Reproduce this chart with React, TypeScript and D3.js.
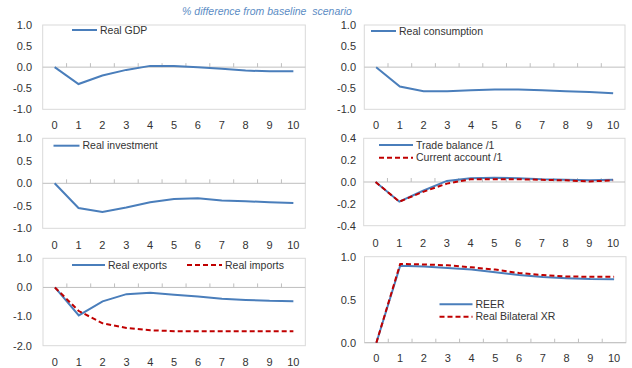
import React from 'react';
import * as d3 from 'd3';

const periods = ['0', '1', '2', '3', '4', '5', '6', '7', '8', '9', '10'];
const realGDP = [0, -0.4, -0.2, -0.065, 0.03, 0.03, 0.0, -0.04, -0.08, -0.1, -0.1];
const realConsumption = [0, -0.46, -0.57, -0.57, -0.55, -0.53, -0.53, -0.55, -0.57, -0.59, -0.62];
const realInvestment = [0, -0.55, -0.64, -0.54, -0.42, -0.35, -0.33, -0.38, -0.4, -0.42, -0.44];
const tradeBalance = [0, -0.18, -0.08, 0.01, 0.035, 0.04, 0.035, 0.025, 0.02, 0.015, 0.02];
const currentAccount = [0, -0.18, -0.09, -0.015, 0.025, 0.025, 0.025, 0.02, 0.015, 0.005, 0.015];
const realExports = [0, -0.96, -0.48, -0.23, -0.18, -0.25, -0.31, -0.39, -0.43, -0.46, -0.47];
const realImports = [0, -0.81, -1.23, -1.39, -1.47, -1.5, -1.5, -1.5, -1.5, -1.5, -1.5];
const reer = [0, 0.895, 0.885, 0.87, 0.85, 0.82, 0.787, 0.765, 0.75, 0.74, 0.737];
const realBilateralXR = [0, 0.915, 0.91, 0.9, 0.877, 0.85, 0.81, 0.787, 0.77, 0.767, 0.767];

const ticksPct = [-1, -0.5, 0, 0.5, 1];
const ticksTrade = [-0.4, -0.2, 0, 0.2, 0.4];
const ticksExIm = [-2, -1, 0, 1];
const ticksXR = [0, 0.5, 1];

const subtitle = '% difference from baseline  scenario';

const BLUE = '#4a7ebb';
const RED = '#c00000';
const FONT = 'Liberation Sans, Arial, sans-serif';

type Series = { name: string; values: number[]; color: string; dashed?: boolean };
type Legend = { name: string; x: number; y: number; color: string; dashed?: boolean; len: number };

type PanelProps = {
  left: number; right: number; top: number; bottom: number;
  domain: [number, number]; ticks: number[];
  series: Series[]; legends: Legend[];
  labelY: number; yLabelX: number;
};

const fmt = (v: number) => v.toFixed(1).replace('\u2212', '-');

function Panel(p: PanelProps) {
  const x = d3.scaleBand<string>().domain(periods).range([p.left, p.right]);
  const y = d3.scaleLinear().domain(p.domain).range([p.bottom, p.top]);
  const cx = (i: number) => (x(periods[i]) as number) + x.bandwidth() / 2;
  const line = d3.line<number>().x((_, i) => cx(i)).y(d => y(d));
  const axisY = y(Math.max(p.domain[0], Math.min(0, p.domain[1])));
  const boundaries = periods.slice(1).map(c => x(c) as number);
  return (
    <g>
      <rect x={p.left} y={p.top} width={p.right - p.left} height={p.bottom - p.top}
        fill="white" stroke="#d9d9d9" strokeWidth={1} />
      <line x1={p.left} x2={p.right} y1={axisY} y2={axisY} stroke="#bfbfbf" strokeWidth={1} />
      {boundaries.map((bx, i) => (
        <line key={i} x1={bx} x2={bx} y1={axisY} y2={axisY - 4} stroke="#bfbfbf" strokeWidth={1} />
      ))}
      {p.ticks.map((t, i) => (
        <text key={i} x={p.yLabelX} y={y(t)} dy="0.35em" textAnchor="end"
          fontSize={11} fontFamily={FONT} fill="#333">{fmt(t)}</text>
      ))}
      {periods.map((c, i) => (
        <text key={c} x={cx(i)} y={p.labelY} textAnchor="middle"
          fontSize={11} fontFamily={FONT} fill="#333">{c}</text>
      ))}
      {p.series.map(s => (
        <path key={s.name} d={line(s.values) as string} fill="none" stroke={s.color}
          strokeWidth={2} strokeDasharray={s.dashed ? '5,3' : undefined} />
      ))}
      {p.legends.map(l => (
        <g key={l.name}>
          <line x1={l.x} x2={l.x + l.len} y1={l.y} y2={l.y} stroke={l.color} strokeWidth={2}
            strokeDasharray={l.dashed ? '5,3' : undefined} />
          <text x={l.x + l.len + 3} y={l.y} dy="0.35em" fontSize={10.5} fontFamily={FONT} fill="#333">{l.name}</text>
        </g>
      ))}
    </g>
  );
}

export default function App() {
  return (
    <svg width={632} height={368} style={{ position: 'absolute', left: 0, top: 0, background: 'white' }}>
      <rect width={632} height={368} fill="white" />
      <text x={267} y={15} textAnchor="middle" fontSize={10.5} fontStyle="italic" fontFamily={FONT}
        fill="#5b8cc4" style={{ whiteSpace: 'pre' }}>{subtitle}</text>
      <Panel left={42.7} right={305.3} top={25} bottom={109.3} domain={[-1, 1]} ticks={ticksPct}
        labelY={129} yLabelX={32}
        series={[{ name: 'Real GDP', values: realGDP, color: BLUE }]}
        legends={[{ name: 'Real GDP', x: 72, y: 30, color: BLUE, len: 25 }]} />
      <Panel left={364.3} right={625} top={25} bottom={109.3} domain={[-1, 1]} ticks={ticksPct}
        labelY={129} yLabelX={356}
        series={[{ name: 'Real consumption', values: realConsumption, color: BLUE }]}
        legends={[{ name: 'Real consumption', x: 371, y: 31, color: BLUE, len: 25 }]} />
      <Panel left={42.7} right={305.3} top={138.3} bottom={228.3} domain={[-1, 1]} ticks={ticksPct}
        labelY={249} yLabelX={32}
        series={[{ name: 'Real investment', values: realInvestment, color: BLUE }]}
        legends={[{ name: 'Real investment', x: 53.5, y: 145.7, color: BLUE, len: 26 }]} />
      <Panel left={363.7} right={625} top={138.3} bottom={225.7} domain={[-0.4, 0.4]} ticks={ticksTrade}
        labelY={246.5} yLabelX={356}
        series={[
          { name: 'Trade balance /1', values: tradeBalance, color: BLUE },
          { name: 'Current account /1', values: currentAccount, color: RED, dashed: true },
        ]}
        legends={[
          { name: 'Trade balance /1', x: 379, y: 145, color: BLUE, len: 34 },
          { name: 'Current account /1', x: 379, y: 157.7, color: RED, dashed: true, len: 34 },
        ]} />
      <Panel left={43} right={305.3} top={258.3} bottom={345.7} domain={[-2, 1]} ticks={ticksExIm}
        labelY={365.5} yLabelX={32}
        series={[
          { name: 'Real exports', values: realExports, color: BLUE },
          { name: 'Real imports', values: realImports, color: RED, dashed: true },
        ]}
        legends={[
          { name: 'Real exports', x: 72, y: 265, color: BLUE, len: 33 },
          { name: 'Real imports', x: 187, y: 265, color: RED, dashed: true, len: 35 },
        ]} />
      <Panel left={364.5} right={626} top={256.7} bottom={342.7} domain={[0, 1]} ticks={ticksXR}
        labelY={361.5} yLabelX={356}
        series={[
          { name: 'REER', values: reer, color: BLUE },
          { name: 'Real Bilateral XR', values: realBilateralXR, color: RED, dashed: true },
        ]}
        legends={[
          { name: 'REER', x: 439.5, y: 304.3, color: BLUE, len: 33 },
          { name: 'Real Bilateral XR', x: 439.5, y: 316.7, color: RED, dashed: true, len: 33 },
        ]} />
    </svg>
  );
}
